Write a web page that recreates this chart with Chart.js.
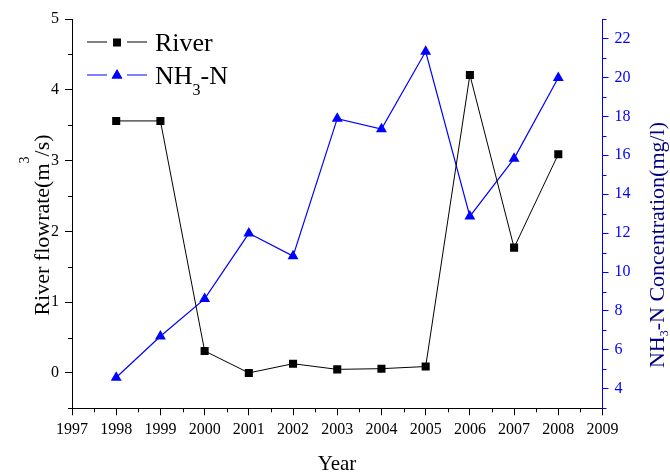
<!DOCTYPE html>
<html>
<head>
<meta charset="utf-8">
<script src="https://cdn.jsdelivr.net/npm/chart.js@4.4.1/dist/chart.umd.min.js"></script>
<style>
  body { margin: 0; background: #fff; }
  #wrap { width: 670px; height: 473px; position: relative; }
</style>
</head>
<body>
<div id="wrap"><canvas id="chart"></canvas></div>
<script>
const years = [1998, 1999, 2000, 2001, 2002, 2003, 2004, 2005, 2006, 2007, 2008];
const riverFlow = [3.56, 3.56, 0.31, 0.0, 0.13, 0.05, 0.06, 0.09, 4.21, 1.77, 3.09];
const nh3n = [4.58, 6.70, 8.62, 11.99, 10.82, 17.88, 17.35, 21.33, 12.86, 15.83, 19.98];
const xTicks = [1997, 1998, 1999, 2000, 2001, 2002, 2003, 2004, 2005, 2006, 2007, 2008, 2009];
const leftTicks = [0, 1, 2, 3, 4, 5];
const rightTicks = [4, 6, 8, 10, 12, 14, 16, 18, 20, 22];

const SERIF = "'Liberation Serif', 'DejaVu Serif', serif";
const BLUE = "#0000ff";

function toPoints(xs, ys) {
  return xs.map((x, i) => ({ x: x, y: ys[i] }));
}

// text with sub / superscripts, centred on (0,0) in the current transform
function drawRich(ctx, parts, size, color) {
  ctx.fillStyle = color;
  ctx.textBaseline = "alphabetic";
  ctx.textAlign = "left";
  let total = 0;
  parts.forEach(p => {
    ctx.font = (p.size || size) + "px " + SERIF;
    p.w = ctx.measureText(p.t).width;
    total += p.w;
  });
  let x = -total / 2;
  parts.forEach(p => {
    ctx.font = (p.size || size) + "px " + SERIF;
    ctx.fillText(p.t, x, p.dy || 0);
    x += p.w;
  });
}

function minorTicks(ctx, scale, from, to, step, len, color, side) {
  ctx.save();
  ctx.strokeStyle = color;
  ctx.lineWidth = 1;
  ctx.beginPath();
  for (let v = from; v <= to + 1e-9; v += step) {
    const p = Math.round(scale.getPixelForValue(v)) + 0.5;
    if (side === "bottom") {
      ctx.moveTo(p, scale.top);
      ctx.lineTo(p, scale.top + len);
    } else if (side === "left") {
      ctx.moveTo(scale.right, p);
      ctx.lineTo(scale.right - len, p);
    } else {
      ctx.moveTo(scale.left, p);
      ctx.lineTo(scale.left + len, p);
    }
  }
  ctx.stroke();
  ctx.restore();
}

const extras = {
  id: "extras",
  afterDraw(chart) {
    const ctx = chart.ctx;
    const s = chart.scales;
    minorTicks(ctx, s.x, 1997.5, 2008.5, 1, 4, "#000", "bottom");
    minorTicks(ctx, s.y, -0.5, 4.5, 1, 4, "#000", "left");
    minorTicks(ctx, s.y2, 3, 23, 2, 4, BLUE, "right");

    // axis titles
    ctx.save();
    ctx.translate(337, 470);
    drawRich(ctx, [{ t: "Year" }], 21, "#000");
    ctx.restore();

    ctx.save();
    ctx.translate(48.5, 225);
    ctx.rotate(-Math.PI / 2);
    drawRich(ctx, [
      { t: "River flowrate(m" },
      { t: "3", size: 14, dy: -20 },
      { t: "/s)" }
    ], 22, "#000");
    ctx.restore();

    ctx.save();
    ctx.translate(664, 245);
    ctx.rotate(-Math.PI / 2);
    drawRich(ctx, [
      { t: "NH" },
      { t: "3", size: 12, dy: 4 },
      { t: "-N Concentration(mg/l)" }
    ], 22, "#000080");
    ctx.restore();

    // legend
    const rows = [
      { y: 42, color: "#000", style: "rect", r: 5.4, parts: [{ t: "River" }] },
      { y: 75, color: BLUE, style: "triangle", r: 6.2,
        parts: [{ t: "NH" }, { t: "3", size: 16, dy: 11 }, { t: "-N" }] }
    ];
    rows.forEach(row => {
      ctx.save();
      ctx.fillStyle = row.color;
      Chart.helpers.drawPoint(ctx, { pointStyle: row.style, radius: row.r, borderWidth: 0, rotation: 0 }, 117, row.y + 0.5);
      ctx.fill();
      ctx.beginPath();
      ctx.strokeStyle = row.color;
      ctx.lineWidth = 1;
      ctx.moveTo(87, row.y);
      ctx.lineTo(107, row.y);
      ctx.moveTo(127, row.y);
      ctx.lineTo(147, row.y);
      ctx.stroke();
      ctx.restore();

      ctx.save();
      let total = 0;
      row.parts.forEach(p => {
        ctx.font = (p.size || 26) + "px " + SERIF;
        total += ctx.measureText(p.t).width;
      });
      ctx.translate(155 + total / 2, row.y + 9);
      drawRich(ctx, row.parts, 26, "#000");
      ctx.restore();
    });
  }
};

new Chart(document.getElementById("chart"), {
  type: "line",
  data: {
    datasets: [
      {
        label: "River",
        data: toPoints(years, riverFlow),
        yAxisID: "y",
        borderColor: "#000",
        backgroundColor: "#000",
        borderWidth: 1,
        pointStyle: "rect",
        pointRadius: 5.7,
        pointBorderWidth: 0,
        tension: 0
      },
      {
        label: "NH3-N",
        data: toPoints(years, nh3n),
        yAxisID: "y2",
        borderColor: BLUE,
        backgroundColor: BLUE,
        borderWidth: 1.2,
        pointStyle: "triangle",
        pointRadius: 6.3,
        pointBorderWidth: 0,
        tension: 0
      }
    ]
  },
  options: {
    responsive: true,
    maintainAspectRatio: false,
    animation: false,
    layout: { padding: { top: 19, left: 0, right: 0, bottom: 0 } },
    plugins: {
      legend: { display: false },
      tooltip: { enabled: false }
    },
    scales: {
      x: {
        type: "linear",
        position: "bottom",
        min: 1997,
        max: 2009,
        afterBuildTicks: s => { s.ticks = xTicks.map(v => ({ value: v })); },
        afterFit: s => { s.height = 473 - 408.3; },
        border: { display: true, color: "#000", width: 1 },
        grid: { drawOnChartArea: false, drawTicks: true, tickLength: 7, color: "#000" },
        ticks: {
          autoSkip: false,
          maxRotation: 0,
          padding: 5,
          color: "#000",
          font: { family: SERIF, size: 16 },
          callback: v => String(v)
        }
      },
      y: {
        type: "linear",
        position: "left",
        min: -0.5,
        max: 5,
        afterBuildTicks: s => { s.ticks = leftTicks.map(v => ({ value: v })); },
        afterFit: s => { s.width = 72; },
        border: { display: true, color: "#000", width: 1 },
        grid: { drawOnChartArea: false, drawTicks: true, tickLength: 7, color: "#000" },
        ticks: {
          padding: 6,
          color: "#000",
          font: { family: SERIF, size: 16 },
          callback: v => String(v)
        }
      },
      y2: {
        type: "linear",
        position: "right",
        min: 3,
        max: 23,
        afterBuildTicks: s => { s.ticks = rightTicks.map(v => ({ value: v })); },
        afterFit: s => { s.width = 670 - 602.5; },
        border: { display: true, color: BLUE, width: 1 },
        grid: { drawOnChartArea: false, drawTicks: true, tickLength: 6, color: BLUE },
        ticks: {
          padding: 6,
          color: BLUE,
          font: { family: SERIF, size: 16 },
          callback: v => String(v)
        }
      }
    }
  },
  plugins: [extras]
});
</script>
</body>
</html>
